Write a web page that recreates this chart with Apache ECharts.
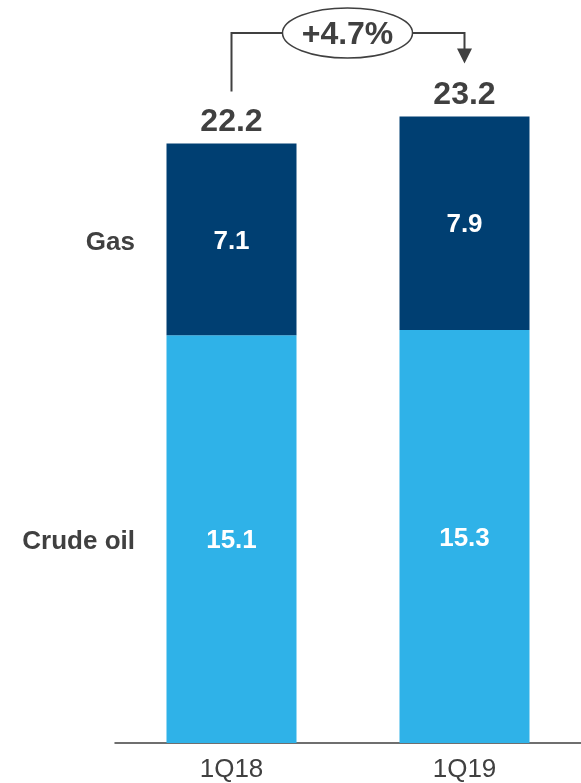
<!DOCTYPE html>
<html>
<head>
<meta charset="utf-8">
<script src="https://cdn.jsdelivr.net/npm/echarts@6/dist/echarts.min.js"></script>
<style>
  html, body { margin: 0; padding: 0; background: #fff; }
  #chart { width: 581px; height: 783px; }
</style>
</head>
<body>
<div id="chart"></div>
<script>
// Production by quarter (stacked: crude oil below, gas above)
const quarters = ['1Q18', '1Q19'];
const crudeOil = [15.1, 15.3];
const gas = [7.1, 7.9];
const totals = [22.2, 23.2];
const seriesNames = ['Crude oil', 'Gas'];
const growthLabel = '+4.7%';

const FONT = '"Liberation Sans", Arial, sans-serif';
const DARK = '#404040';

const chart = echarts.init(document.getElementById('chart'));

chart.setOption({
  animation: false,
  grid: { left: 115, right: 0, top: 41, bottom: 39 },
  xAxis: {
    type: 'category',
    data: quarters,
    axisLine: { lineStyle: { color: DARK, width: 1.5 } },
    axisTick: { show: false },
    axisLabel: { color: DARK, fontSize: 26, fontFamily: FONT, margin: 14 }
  },
  yAxis: {
    type: 'value', min: 0, max: 26,
    show: false, splitLine: { show: false }
  },
  series: [
    {
      name: seriesNames[0], type: 'bar', stack: 'total', barWidth: 130,
      data: crudeOil,
      itemStyle: { color: '#2fb2e8' },
      label: { show: true, position: 'inside', offset: [0, 2], color: '#fff', fontSize: 26, fontWeight: 'bold', fontFamily: FONT,
               formatter: p => p.value.toFixed(1) }
    },
    {
      name: seriesNames[1], type: 'bar', stack: 'total', barWidth: 130,
      data: gas,
      itemStyle: { color: '#003f72' },
      label: { show: true, position: 'inside', offset: [0, 2], color: '#fff', fontSize: 26, fontWeight: 'bold', fontFamily: FONT,
               formatter: p => p.value.toFixed(1) }
    },
    {
      // totals drawn above each stack
      name: 'Total', type: 'bar', stack: 'total', barWidth: 130,
      data: totals.map(() => 0),
      itemStyle: { color: 'transparent' },
      label: { show: true, position: 'top', distance: 5, color: DARK, fontSize: 32, fontWeight: 'bold', fontFamily: FONT,
               formatter: p => totals[p.dataIndex].toFixed(1) }
    }
  ]
});

// Series names at the left of the first stack, and the growth bracket
function px(i, v) { return chart.convertToPixel({ gridIndex: 0 }, [i, v]); }

const gasMid = px(0, crudeOil[0] + gas[0] / 2);
const oilMid = px(0, crudeOil[0] / 2);
const a = px(0, totals[0]);
const b = px(1, totals[1]);
const yBracket = 33;
const ellCx = (a[0] + b[0]) / 2 - 0.5, ellRx = 65, ellRy = 25;
const startY = a[1] - 52;
const tipY = b[1] - 53;

chart.setOption({
  graphic: [
    { type: 'text', x: 135, y: gasMid[1] + 3, style: { text: seriesNames[1], fill: DARK, font: 'bold 26px ' + FONT, textAlign: 'right', textVerticalAlign: 'middle' } },
    { type: 'text', x: 135, y: oilMid[1] + 3, style: { text: seriesNames[0], fill: DARK, font: 'bold 26px ' + FONT, textAlign: 'right', textVerticalAlign: 'middle' } },
    { type: 'polyline', shape: { points: [[a[0], startY], [a[0], yBracket], [ellCx - ellRx, yBracket]] },
      style: { stroke: DARK, lineWidth: 2, fill: null } },
    { type: 'polyline', shape: { points: [[ellCx + ellRx, yBracket], [b[0], yBracket], [b[0], tipY - 14]] },
      style: { stroke: DARK, lineWidth: 2, fill: null } },
    { type: 'polygon', shape: { points: [[b[0] - 7.5, tipY - 15], [b[0] + 7.5, tipY - 15], [b[0], tipY]] },
      style: { fill: DARK } },
    { type: 'ellipse', shape: { cx: ellCx, cy: yBracket, rx: ellRx, ry: ellRy },
      style: { fill: '#fff', stroke: DARK, lineWidth: 1.5 } },
    { type: 'text', x: ellCx, y: yBracket + 2, style: { text: growthLabel, fill: DARK, font: 'bold 32px ' + FONT, textAlign: 'center', textVerticalAlign: 'middle' } }
  ]
});
</script>
</body>
</html>
